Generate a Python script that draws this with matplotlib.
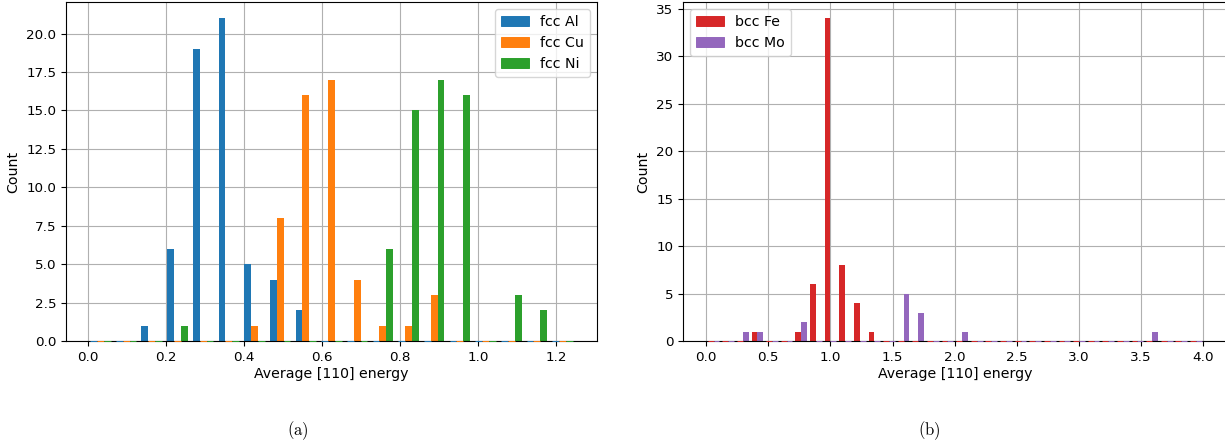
import numpy as np
import matplotlib
matplotlib.use('Agg')
import matplotlib.pyplot as plt

plt.rcParams['font.size'] = 10.2
plt.rcParams['xtick.labelsize'] = 9.7
plt.rcParams['ytick.labelsize'] = 9.7
plt.rcParams['mathtext.fontset'] = 'cm'

# histogram counts per bin
fcc_edges = np.linspace(0, 1.25, 20)
fcc_al = [0, 0, 1, 6, 19, 21, 5, 4, 2, 0, 0, 0, 0, 0, 0, 0, 0, 0, 0]
fcc_cu = [0, 0, 0, 0, 0, 0, 1, 8, 16, 17, 4, 1, 1, 3, 0, 0, 0, 0, 0]
fcc_ni = [0, 0, 0, 1, 0, 0, 0, 0, 0, 0, 0, 6, 15, 17, 16, 0, 3, 2, 0]
fcc_labels = ['fcc Al', 'fcc Cu', 'fcc Ni']

bcc_edges = np.linspace(0, 4, 35)
bcc_fe = [0, 0, 0, 1, 0, 0, 1, 6, 34, 8, 4, 1, 0, 0, 0, 0, 0,
          0, 0, 0, 0, 0, 0, 0, 0, 0, 0, 0, 0, 0, 0, 0, 0, 0]
bcc_mo = [0, 0, 1, 1, 0, 0, 2, 0, 0, 0, 0, 0, 0, 5, 3, 0, 0,
          1, 0, 0, 0, 0, 0, 0, 0, 0, 0, 0, 0, 0, 1, 0, 0, 0]
bcc_labels = ['bcc Fe', 'bcc Mo']


def draw_hist(ax, edges, counts, colors, labels):
    centers = (edges[:-1] + edges[1:]) / 2
    _, _, groups = ax.hist([centers] * len(counts), bins=edges, weights=counts,
                           color=colors, label=labels)
    # empty bins show up as thin lines on the baseline
    for g in groups:
        for p in g:
            if p.get_height() == 0:
                p.set_edgecolor(p.get_facecolor())
                p.set_linewidth(0.7)
                p.set_zorder(3)
                p.set_clip_on(False)
    ax.set_axisbelow(True)
    ax.grid(True, color='#b0b0b0', lw=0.8)
    ax.set_xlabel('Average [110] energy', labelpad=2)
    ax.set_ylabel('Count')


fig = plt.figure(figsize=(12.25, 4.44), dpi=100)
W, H = 1225.0, 444.0

ax1 = fig.add_axes([66 / W, 103 / H, 531 / W, 339 / H])
draw_hist(ax1, fcc_edges, [fcc_al, fcc_cu, fcc_ni],
          ['tab:blue', 'tab:orange', 'tab:green'], fcc_labels)
ax1.set_yticks(np.arange(0, 21, 2.5))
ax1.legend(loc='upper right')

ax2 = fig.add_axes([683 / W, 103 / H, 543.5 / W, 339 / H])
draw_hist(ax2, bcc_edges, [bcc_fe, bcc_mo], ['tab:red', 'tab:purple'], bcc_labels)
ax2.set_xticks(np.arange(0, 4.01, 0.5))
ax2.legend(loc='upper left')

fig.text(298 / W, 1 - 431 / H, r'$\mathrm{(a)}$', ha='center', va='center', fontsize=12)
fig.text(929 / W, 1 - 431 / H, r'$\mathrm{(b)}$', ha='center', va='center', fontsize=12)

fig.savefig('out.png', dpi=100)
